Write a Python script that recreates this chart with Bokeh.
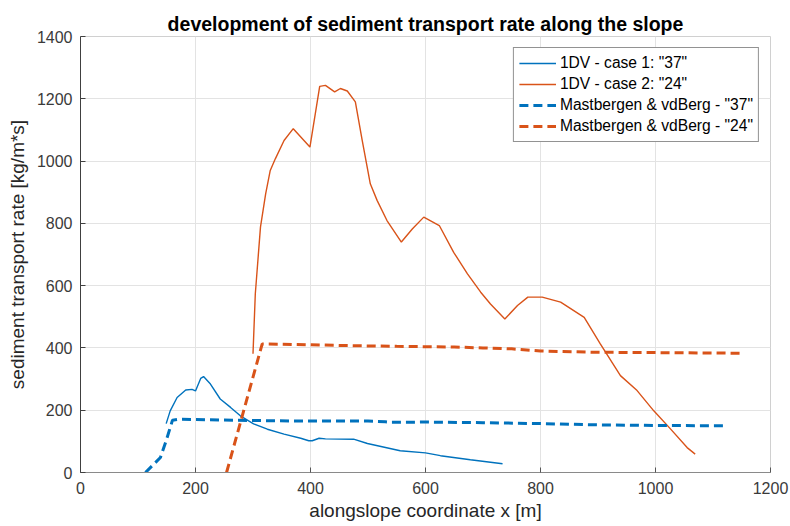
from bokeh.plotting import figure
from bokeh.models import Range1d, FixedTicker, Legend, LegendItem
from bokeh.embed import file_html
from bokeh.resources import INLINE

# ---- data ----
case1_x = [149, 156, 168, 183, 194, 200, 209, 214, 226, 243, 261, 278, 301, 325, 354, 383, 397, 403,
           415, 426, 475, 499, 556, 600, 626, 678, 734]
case1_y = [157, 198, 241, 265, 267, 262, 302, 308, 284, 236, 209, 182, 156, 139, 123, 110, 102, 102,
           110, 108, 107, 93, 70, 63, 54, 41, 28]

case2_x = [300, 304, 313, 322, 330, 339, 354, 370, 399, 416, 426, 442, 452, 464, 478, 490, 504, 516,
           533, 558, 577, 597, 624, 649, 673, 696, 713, 738, 760, 778, 803, 835, 876, 904, 939, 968,
           997, 1026, 1055, 1069]
case2_y = [381, 573, 788, 895, 970, 1008, 1066, 1104, 1045, 1240, 1243, 1222, 1233, 1225, 1190, 1066,
           927, 873, 809, 740, 782, 820, 793, 707, 638, 579, 541, 493, 536, 563, 563, 547, 498, 413,
           311, 263, 198, 140, 80, 59]

mv37_x = [113, 139, 149, 160, 170, 300, 400, 500, 530, 540, 600, 700, 800, 900, 1000, 1122]
mv37_y = [0, 48, 102, 168, 171, 167, 165, 165, 163, 161, 162, 160, 157, 153, 151, 150]

mv24_x = [254, 316, 350, 450, 550, 650, 700, 750, 800, 900, 1000, 1153]
mv24_y = [0, 413, 412, 408, 405, 403, 400, 397, 390, 386, 385, 383]

x_ticks = [0, 200, 400, 600, 800, 1000, 1200]
y_ticks = [0, 200, 400, 600, 800, 1000, 1200, 1400]

BLUE = "#0072BD"
ORANGE = "#D95319"
FONT = "Liberation Sans"

p = figure(width=790, height=526, output_backend="svg", toolbar_location=None,
           x_range=Range1d(0, 1200), y_range=Range1d(0, 1400),
           min_border_left=80, min_border_right=20, min_border_top=36, min_border_bottom=54)

p.title.text = "development of sediment transport rate along the slope"
p.title.align = "center"
p.title.text_font = FONT
p.title.text_font_size = "19.5px"
p.title.text_font_style = "bold"
p.title.text_color = "#000000"
p.title.offset = 0
p.title.standoff = 4

r1 = p.line(case1_x, case1_y, line_color=BLUE, line_width=1.4)
r2 = p.line(case2_x, case2_y, line_color=ORANGE, line_width=1.4)
r3 = p.line(mv37_x, mv37_y, line_color=BLUE, line_width=3, line_dash="9 5")
r4 = p.line(mv24_x, mv24_y, line_color=ORANGE, line_width=3, line_dash="9 5")

for ax in (p.xaxis, p.yaxis):
    ax.major_tick_in = 5
    ax.major_tick_out = 0
    ax.minor_tick_line_color = None
    ax.major_label_text_font = FONT
    ax.major_label_text_font_size = "16px"
    ax.major_label_text_color = "#3a3a3a"
    ax.axis_label_text_font = FONT
    ax.axis_label_text_font_size = "19px"
    ax.axis_label_text_font_style = "normal"
    ax.axis_label_text_color = "#262626"

p.xaxis.axis_line_color = "#8a8a8a"
p.xaxis.major_tick_line_color = "#555555"
p.yaxis.axis_line_color = "#404040"
p.yaxis.major_tick_line_color = "#404040"

p.xaxis.ticker = FixedTicker(ticks=x_ticks)
p.yaxis.ticker = FixedTicker(ticks=y_ticks)
p.xaxis.axis_label = "alongslope coordinate x [m]"
p.yaxis.axis_label = "sediment transport rate [kg/m*s]"
p.xaxis.major_label_standoff = 9
p.xaxis.axis_label_standoff = 3
p.yaxis.major_label_standoff = 8
p.yaxis.axis_label_standoff = 6

p.grid.grid_line_color = "#e3e3e3"
p.outline_line_color = "#d0d0d0"

legend = Legend(items=[
    LegendItem(label='1DV - case 1: "37"', renderers=[r1]),
    LegendItem(label='1DV - case 2: "24"', renderers=[r2]),
    LegendItem(label='Mastbergen & vdBerg - "37"', renderers=[r3]),
    LegendItem(label='Mastbergen & vdBerg - "24"', renderers=[r4]),
], location="top_right")
legend.margin = 11
legend.padding = 5
legend.spacing = 1
legend.label_height = 20
legend.glyph_height = 20
legend.glyph_width = 37
legend.label_standoff = 4
legend.label_text_font = FONT
legend.label_text_font_size = "15.6px"
legend.label_text_color = "#000000"
legend.border_line_color = "#262626"
legend.border_line_width = 1
legend.background_fill_alpha = 1
p.add_layout(legend)

open("out.html", "w").write(file_html(p, INLINE))
